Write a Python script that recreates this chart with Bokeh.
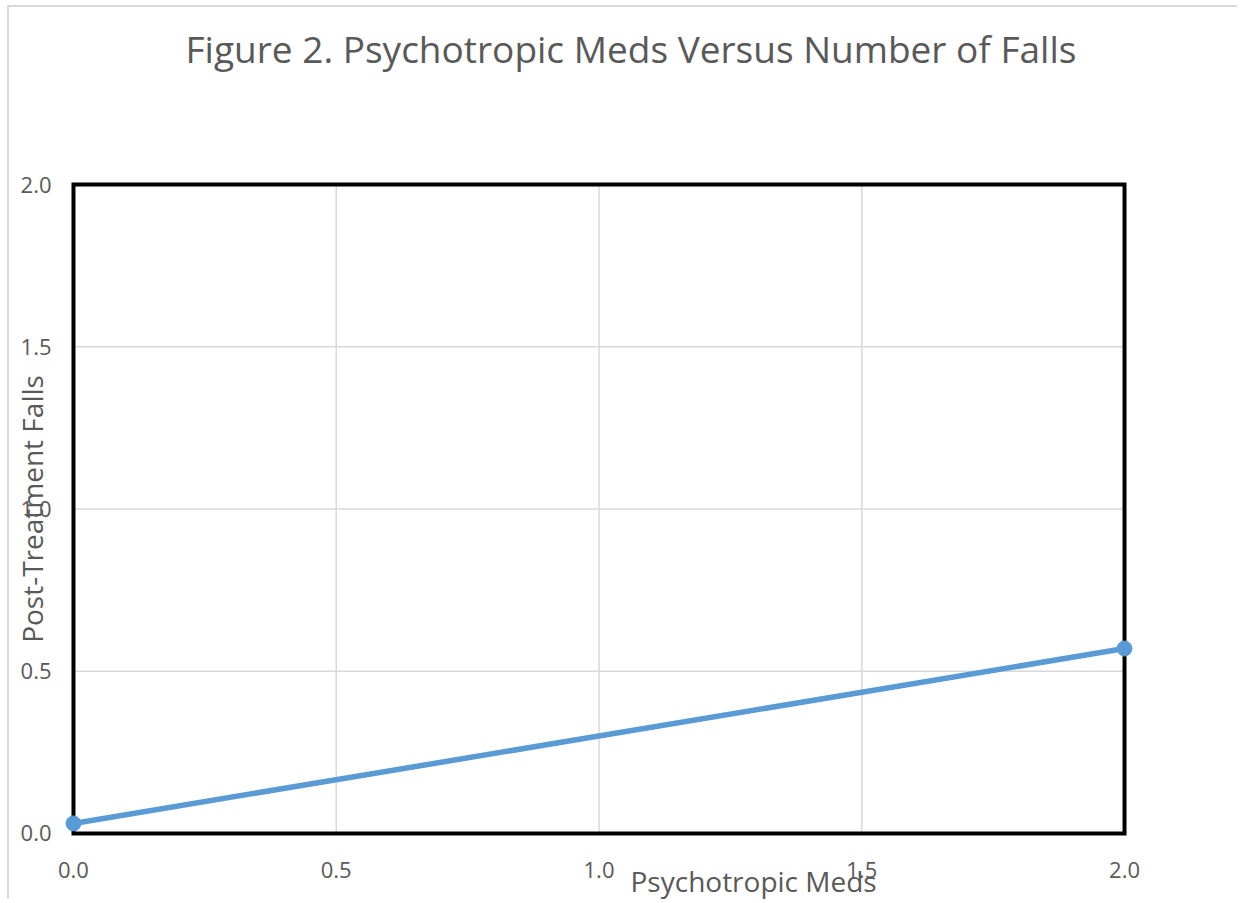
from bokeh.plotting import figure
from bokeh.models import FixedTicker, Range1d, NumeralTickFormatter, LinearAxis, Title
from bokeh.embed import file_html
from bokeh.resources import INLINE

# ---- data ----
x_vals = [0.0, 2.0]
y_vals = [0.031, 0.570]
x_ticks = [0.0, 0.5, 1.0, 1.5, 2.0]
y_ticks = [0.0, 0.5, 1.0, 1.5, 2.0]
title_text = "Figure 2.  Psychotropic Meds Versus Number of Falls"
x_label = "Psychotropic Meds"
y_label = "Post-Treatment Falls"

FONT = "Open Sans"
TXT = "#595959"
BLUE = "#5b9bd5"
GRID = "#d9d9d9"

x0, x1 = x_ticks[0], x_ticks[-1]
y0, y1 = y_ticks[0], y_ticks[-1]
PADX = 0.0228   # room so the end markers are not cut by the frame
PADY = 0.037

p = figure(width=1230, height=894,
           x_range=Range1d(x0 - PADX, x1 + PADX),
           y_range=Range1d(y0 - PADY, y1 + PADY),
           output_backend="svg", toolbar_location=None,
           min_border_left=52, min_border_right=103,
           min_border_top=165, min_border_bottom=56)
p.title = None

p.background_fill_color = "white"
p.border_fill_color = "white"
p.outline_line_color = None
p.xgrid.visible = False
p.ygrid.visible = False

# main axes (tick labels)
for ax in (p.xaxis[0], p.yaxis[0]):
    ax.major_tick_line_color = None
    ax.minor_tick_line_color = None
    ax.axis_line_color = None
    ax.major_label_text_font = FONT
    ax.major_label_text_font_size = "22px"
    ax.major_label_text_color = TXT
    ax.formatter = NumeralTickFormatter(format="0.0")

p.xaxis[0].ticker = FixedTicker(ticks=x_ticks)
p.yaxis[0].ticker = FixedTicker(ticks=y_ticks)
p.xaxis[0].major_label_standoff = 10
p.yaxis[0].major_label_standoff = 4

p.yaxis[0].axis_label = y_label
p.yaxis[0].axis_label_text_font = FONT
p.yaxis[0].axis_label_text_font_size = "28px"
p.yaxis[0].axis_label_text_font_style = "normal"
p.yaxis[0].axis_label_text_color = TXT
p.yaxis[0].axis_label_standoff = -33

# blank spacer between frame and chart title (nearest the frame)
spacer = LinearAxis(ticker=FixedTicker(ticks=[]), axis_line_color=None,
                    major_tick_line_color=None, minor_tick_line_color=None,
                    major_tick_out=0, major_tick_in=0, minor_tick_out=0,
                    major_label_standoff=0, axis_label=" ",
                    axis_label_text_font_size="1px",
                    axis_label_standoff=94)
p.add_layout(spacer, "above")

# chart title (outside the spacer)
p.add_layout(Title(text=title_text, align="left", offset=124, standoff=0,
                   vertical_align="middle", text_font=FONT,
                   text_font_size="37px", text_font_style="normal",
                   text_color=TXT), "above")

# x-axis title (overlapping the tick labels as in the reference)
p.add_layout(Title(text=x_label, align="left", offset=569, standoff=-44,
                   vertical_align="middle", text_font=FONT,
                   text_font_size="28px", text_font_style="normal",
                   text_color=TXT), "below")

# gridlines
p.segment(x0=x_ticks[1:-1], y0=y0, x1=x_ticks[1:-1], y1=y1,
          line_color=GRID, line_width=1.5)
p.segment(x0=x0, y0=y_ticks[1:-1], x1=x1, y1=y_ticks[1:-1],
          line_color=GRID, line_width=1.5)

# plot-area frame
p.quad(left=x0, right=x1, bottom=y0, top=y1, fill_color=None,
       line_color="black", line_width=4, line_join="miter")

# series
p.line(x_vals, y_vals, line_color=BLUE, line_width=5.5)
p.scatter(x_vals, y_vals, size=15, fill_color=BLUE, line_color=BLUE)

p.styles = {"border-left": "2px solid #d9d9d9", "border-top": "2px solid #d9d9d9",
            "margin-left": "7px", "margin-top": "5px"}

open("out.html", "w").write(file_html(p, INLINE))
